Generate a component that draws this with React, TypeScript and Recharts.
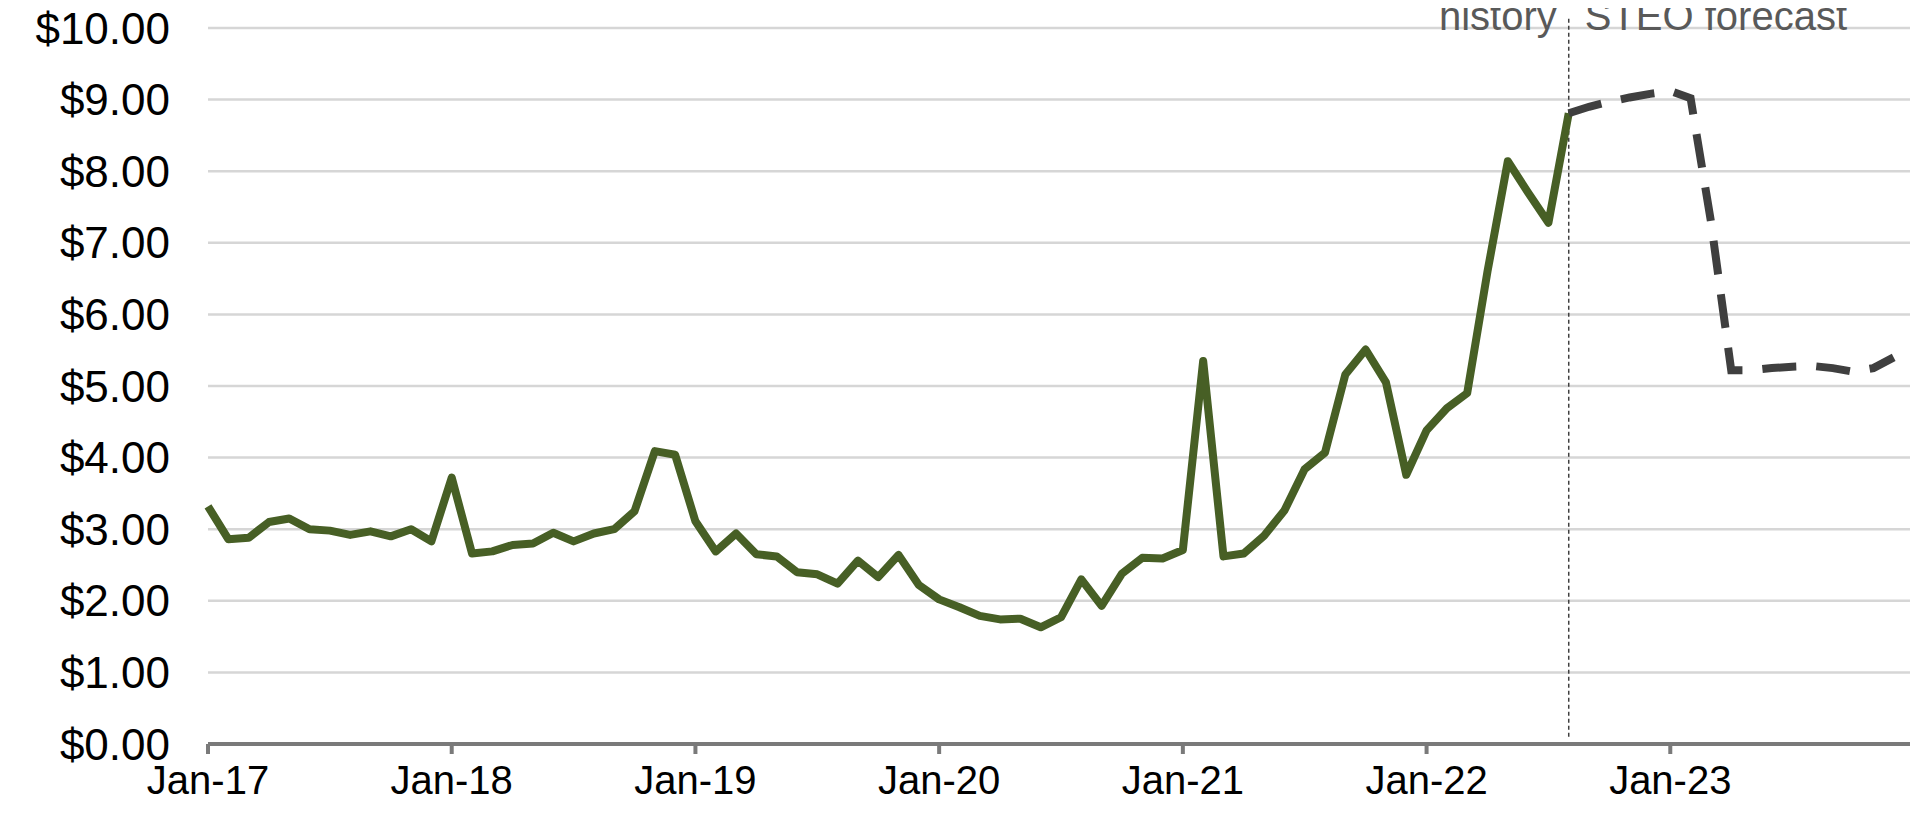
import { LineChart, Line, XAxis, YAxis, CartesianGrid, ReferenceLine } from 'recharts'

// monthly Henry Hub spot price, Jan-17 .. Aug-22 (history)
const history2017 = [3.32, 2.86, 2.88, 3.1, 3.15, 3.0, 2.98, 2.92, 2.97, 2.9, 3.0, 2.83]
const history2018 = [3.72, 2.66, 2.69, 2.78, 2.8, 2.95, 2.83, 2.94, 3.0, 3.25, 4.09, 4.04]
const history2019 = [3.11, 2.69, 2.94, 2.65, 2.62, 2.4, 2.37, 2.24, 2.56, 2.33, 2.64, 2.22]
const history2020 = [2.02, 1.91, 1.79, 1.74, 1.75, 1.63, 1.77, 2.3, 1.93, 2.38, 2.6, 2.59]
const history2021 = [2.71, 5.35, 2.62, 2.66, 2.91, 3.26, 3.84, 4.07, 5.16, 5.51, 5.05, 3.76]
const history2022 = [4.38, 4.69, 4.9, 6.6, 8.14, 7.7, 7.28, 8.81]

// STEO forecast, Aug-22 .. Dec-23
const forecast = [8.81, 8.9, 8.97, 9.03, 9.08, 9.12, 9.02, 7.3, 5.22, 5.22, 5.25, 5.27, 5.28, 5.25, 5.2, 5.25, 5.4]

const yearLabels = ['Jan-17', 'Jan-18', 'Jan-19', 'Jan-20', 'Jan-21', 'Jan-22', 'Jan-23', '']
const yTicks = [0, 1, 2, 3, 4, 5, 6, 7, 8, 9, 10]

const history = [...history2017, ...history2018, ...history2019, ...history2020, ...history2021, ...history2022]
const forecastStart = history.length - 1 // Aug-22
const totalMonths = 84

const data = Array.from({ length: totalMonths }, (_, m) => ({
  m,
  history: m < history.length ? history[m] : null,
  forecast: m >= forecastStart && m - forecastStart < forecast.length ? forecast[m - forecastStart] : null,
}))

const font = '"Liberation Sans", Arial, sans-serif'

const SplitLabel = (props: any) => {
  const x = props.viewBox?.x ?? 0
  return (
    <g>
      <text x={x - 12} y={22} textAnchor="end" fontFamily={font} fontSize={40} fill="#595959">history</text>
      <text x={x + 16} y={22} textAnchor="start" fontFamily={font} fontSize={40} fill="#595959">STEO forecast</text>
    </g>
  )
}

export default function App() {
  return (
    <div style={{ width: 1910, height: 811, background: '#fff' }}>
      <LineChart width={1910} height={811} data={data} margin={{ top: 20, right: 4, left: 0, bottom: 0 }}>
        <CartesianGrid vertical={false} stroke="#d6d6d6" strokeWidth={2.5} />
        <XAxis
          dataKey="m"
          type="number"
          domain={[0, totalMonths]}
          ticks={[0, 12, 24, 36, 48, 60, 72, 84]}
          tickFormatter={(v: number) => yearLabels[v / 12]}
          height={75}
          stroke="#7a7a7a"
          strokeWidth={4}
          tickSize={10}
          tickMargin={12}
          tick={{ fill: '#000', fontSize: 40, fontFamily: font }}
          interval={0}
        />
        <YAxis
          domain={[0, 10]}
          ticks={yTicks}
          tickFormatter={(v: number) => `$${v.toFixed(2)}`}
          width={200}
          axisLine={false}
          tickLine={false}
          tickSize={0}
          tickMargin={38}
          tick={{ fill: '#000', fontSize: 44, fontFamily: font }}
          interval={0}
        />
        <ReferenceLine
          segment={[{ x: forecastStart, y: 0.1 }, { x: forecastStart, y: 10.15 }]}
          ifOverflow="visible"
          stroke="#404040"
          strokeWidth={1.5}
          strokeDasharray="4 3"
          label={<SplitLabel />}
        />
        <Line
          type="linear"
          dataKey="history"
          stroke="#475f25"
          strokeWidth={8}
          strokeLinejoin="round"
          dot={false}
          isAnimationActive={false}
        />
        <Line
          type="linear"
          dataKey="forecast"
          stroke="#3f3f3f"
          strokeWidth={8}
          strokeDasharray="34 20"
          dot={false}
          isAnimationActive={false}
        />
      </LineChart>
    </div>
  )
}
